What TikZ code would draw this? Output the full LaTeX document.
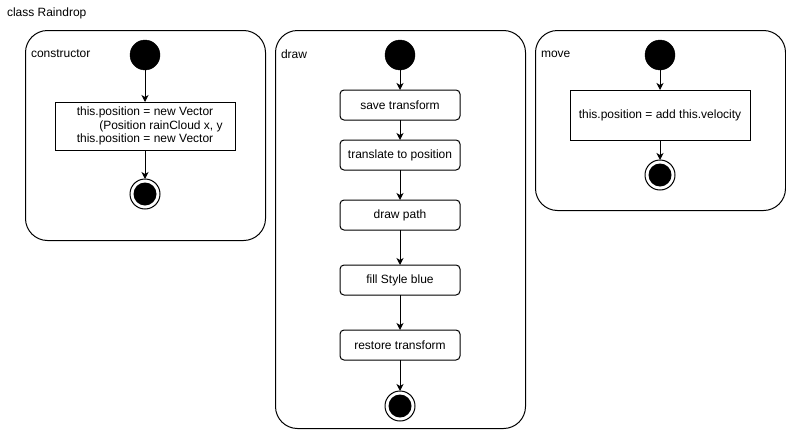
\documentclass[tikz,border=0pt]{standalone}
\usepackage{fontspec}
\setmainfont{Liberation Sans}
\usetikzlibrary{arrows.meta}
\begin{document}
\begin{tikzpicture}[x=1pt,y=-1pt,
  font=\fontsize{12}{13.5}\selectfont,
  every node/.style={outer sep=0pt},
  container/.style={draw=black, line width=1pt, rounded corners=22pt, anchor=north west, inner sep=0pt},
  lbl/.style={anchor=west, inner sep=0pt},
  startnode/.style={circle, fill=black, draw=black, minimum size=30pt, inner sep=0pt},
  endnode/.style={circle, fill=black, draw=white, line width=3pt, double=black, double distance=0pt, minimum size=24pt, inner sep=0pt},
  endring/.style={circle, draw=black, fill=white, line width=1pt, minimum size=30pt, inner sep=0pt},
  actbox/.style={draw=black, line width=1pt, fill=white, inner sep=0pt, align=center},
  actround/.style={actbox, rounded corners=4pt, minimum width=120pt, minimum height=30pt},
  flow/.style={draw=black, line width=1pt, -{Stealth[length=7pt,width=7pt,inset=2pt]}}
]
\useasboundingbox (0,0) rectangle (786,431);

\node[lbl] (title) at (7,13) {class Raindrop};

% containers
\node[container, minimum width=240pt, minimum height=210pt] (c1) at (25.5,30.5) {};
\node[container, minimum width=250pt, minimum height=398pt] (c2) at (275.5,30.5) {};
\node[container, minimum width=250pt, minimum height=180pt] (c3) at (535.5,30.5) {};

\node[lbl] (l1) at (31,54) {constructor};
\node[lbl] (l2) at (281,54) {draw};
\node[lbl] (l3) at (541,54) {move};

% constructor
\node[startnode] (s1) at (145,55) {};
\node[actbox, minimum width=180pt, minimum height=48pt] (b1) at (145,126) {this.position = new Vector\\\hspace*{32pt}(Position rainCloud x, y\\this.position = new Vector};
\node[endring] (e1r) at (145,194) {};
\node[circle, fill=black, minimum size=23pt, inner sep=0pt] (e1) at (145,194) {};
\draw[flow] (s1) -- (b1);
\draw[flow] (b1) -- (e1r);

% draw
\node[startnode] (s2) at (400,55) {};
\node[actround] (d1) at (400,105) {save transform};
\node[actround] (d2) at (400,155) {translate to position};
\node[actround] (d3) at (400,215) {draw path};
\node[actround] (d4) at (400,280) {fill Style blue};
\node[actround] (d5) at (400,345) {restore transform};
\node[endring] (e2r) at (400,406) {};
\node[circle, fill=black, minimum size=23pt, inner sep=0pt] (e2) at (400,406) {};
\draw[flow] (s2) -- (d1);
\draw[flow] (d1) -- (d2);
\draw[flow] (d2) -- (d3);
\draw[flow] (d3) -- (d4);
\draw[flow] (d4) -- (d5);
\draw[flow] (d5) -- (e2r);

% move
\node[startnode] (s3) at (660,55) {};
\node[actbox, minimum width=180pt, minimum height=50pt] (m1) at (660,115) {this.position = add this.velocity};
\node[endring] (e3r) at (660,175) {};
\node[circle, fill=black, minimum size=23pt, inner sep=0pt] (e3) at (660,175) {};
\draw[flow] (s3) -- (m1);
\draw[flow] (m1) -- (e3r);
\end{tikzpicture}
\end{document}
